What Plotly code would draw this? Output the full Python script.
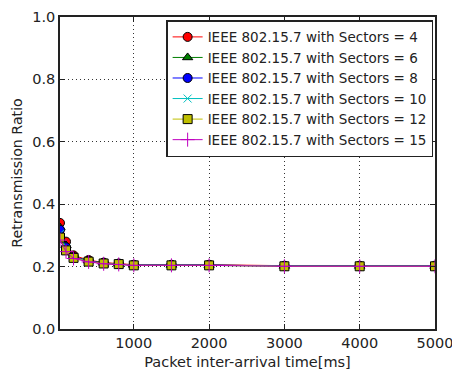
import plotly.graph_objects as go

# Packet inter-arrival time [ms]
inter_arrival = [20, 100, 200, 400, 600, 800, 1000, 1500, 2000, 3000, 4000, 5000]

# Retransmission ratio per number of sectors
sectors_4 = [0.340, 0.280, 0.236, 0.221, 0.213, 0.210, 0.206, 0.206, 0.206, 0.203, 0.203, 0.203]
sectors_6 = [0.325, 0.268, 0.233, 0.219, 0.212, 0.209, 0.205, 0.205, 0.205, 0.202, 0.202, 0.202]
sectors_8 = [0.318, 0.262, 0.231, 0.218, 0.211, 0.209, 0.205, 0.205, 0.205, 0.202, 0.202, 0.202]
sectors_10 = [0.305, 0.257, 0.229, 0.217, 0.210, 0.208, 0.204, 0.204, 0.204, 0.201, 0.201, 0.201]
sectors_12 = [0.293, 0.252, 0.228, 0.216, 0.210, 0.208, 0.204, 0.204, 0.204, 0.201, 0.201, 0.201]
sectors_15 = [0.285, 0.248, 0.226, 0.215, 0.209, 0.207, 0.204, 0.204, 0.204, 0.201, 0.201, 0.201]

series = [
    ("IEEE 802.15.7 with Sectors = 4", sectors_4, "#ff0000", "circle", 9),
    ("IEEE 802.15.7 with Sectors = 6", sectors_6, "#008000", "triangle-up", 9),
    ("IEEE 802.15.7 with Sectors = 8", sectors_8, "#0000ff", "circle", 9),
    ("IEEE 802.15.7 with Sectors = 10", sectors_10, "#00bfbf", "x-thin-open", 8),
    ("IEEE 802.15.7 with Sectors = 12", sectors_12, "#bfbf00", "square", 9),
    ("IEEE 802.15.7 with Sectors = 15", sectors_15, "#bf00bf", "cross-thin-open", 10),
]

fig = go.Figure()
for name, vals, color, symbol, size in series:
    open_sym = symbol.endswith("open")
    fig.add_trace(go.Scatter(
        x=inter_arrival, y=vals, name=name, mode="lines+markers",
        line=dict(color=color, width=1),
        marker=dict(symbol=symbol, size=size, color=color,
                    line=dict(color=color if open_sym else "black", width=1)),
    ))

axis_common = dict(
    showline=True, linecolor="#222", linewidth=1.5, mirror="ticks",
    ticks="inside", ticklen=5, tickcolor="#222",
    showgrid=True, gridcolor="#333", griddash="1px,3px", gridwidth=1,
    zeroline=False, tickfont=dict(size=14.5, color="#222"), automargin=False,
    ticklabeloverflow="allow",
)

fig.update_layout(
    width=452, height=376,
    margin=dict(l=60, r=17, t=17, b=47),
    plot_bgcolor="white", paper_bgcolor="white",
    font=dict(family="DejaVu Sans", size=14.5, color="#222"),
    xaxis=dict(range=[20, 5000], tickvals=[1000, 2000, 3000, 4000, 5000],
               title=dict(text="Packet inter-arrival time[ms]", standoff=7,
                          font=dict(size=14.5)), **axis_common),
    yaxis=dict(range=[0, 1.0], tickvals=[0.0, 0.2, 0.4, 0.6, 0.8, 1.0],
               tickformat=".1f",
               title=dict(text="Retransmission Ratio", standoff=6,
                          font=dict(size=14.2)), **axis_common),
    legend=dict(x=0.995, y=0.99, xanchor="right", yanchor="top",
                bordercolor="#222", borderwidth=1.5, bgcolor="white",
                font=dict(size=13.5), tracegroupgap=2, itemwidth=30),
    showlegend=True,
)

fig.write_html("out.html")
